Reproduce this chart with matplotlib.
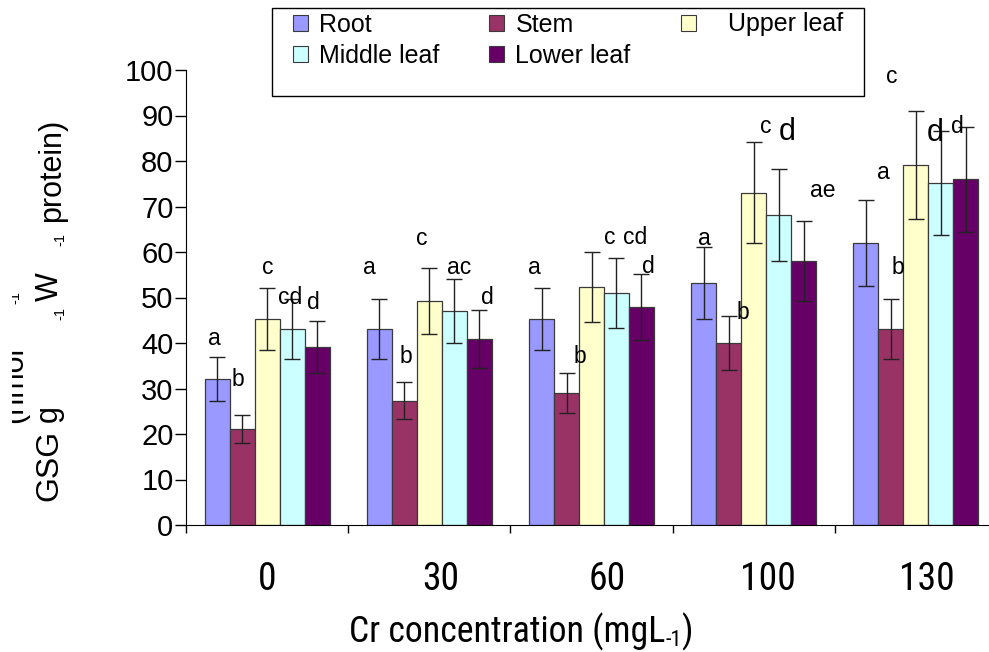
import numpy as np
from matplotlib import pyplot as plt
from matplotlib import font_manager
from matplotlib.font_manager import FontProperties
from matplotlib.patches import Patch, Rectangle
from matplotlib.transforms import Bbox

# Values
concentrations = ['0', '30', '60', '100', '130']
organs = ['Root', 'Stem', 'Upper leaf', 'Middle leaf', 'Lower leaf']

root = [32.1, 43.1, 45.3, 53.2, 62.0]
stem = [21.1, 27.3, 29.0, 40.0, 43.1]
upper_leaf = [45.3, 49.2, 52.3, 73.0, 79.1]
middle_leaf = [43.1, 47.0, 51.0, 68.1, 75.2]
lower_leaf = [39.1, 40.9, 47.9, 58.0, 76.0]

root_err = [4.8, 6.6, 6.8, 7.9, 9.4]
stem_err = [3.0, 4.1, 4.4, 6.0, 6.6]
upper_err = [6.8, 7.2, 7.7, 11.1, 11.9]
middle_err = [6.6, 7.0, 7.7, 10.1, 11.4]
lower_err = [5.7, 6.4, 7.2, 8.8, 11.5]

# Significance letters (text only, placement is below)
letters = ['a', 'b', 'c', 'cd', 'd',
           'a', 'b', 'c', 'ac', 'd',
           'a', 'b', 'c', 'cd', 'd',
           'a', 'b', 'c', 'd', 'ae',
           'a', 'b', 'c', 'd', 'd']

values = [root, stem, upper_leaf, middle_leaf, lower_leaf]
errors = [root_err, stem_err, upper_err, middle_err, lower_err]
colors = ['#9999FF', '#993366', '#FFFFCC', '#CCFFFF', '#660066']

# Letter placement in data coords (x, y, fontsize)
letter_pos = [(-0.327, 40.9, 16.5), (-0.179, 31.9, 16.5), (0.006, 56.7, 16.5), (0.142, 49.9, 16.5), (0.284, 48.8, 16.5),
              (0.630, 56.7, 16.5), (0.858, 37.1, 16.5), (0.951, 62.9, 16.5), (1.185, 56.7, 16.5), (1.358, 50.1, 16.5),
              (1.648, 56.7, 16.5), (1.926, 37.1, 16.5), (2.111, 63.1, 16.5), (2.272, 63.1, 16.5), (2.352, 56.9, 16.5),
              (2.698, 62.9, 16.5), (2.932, 46.8, 16.5), (3.074, 87.5, 16.5), (3.204, 86.4, 22), (3.426, 73.6, 16.5),
              (3.802, 77.4, 16.5), (3.889, 56.7, 16.5), (3.852, 98.5, 16.5), (4.117, 86.2, 22), (4.253, 87.5, 16.5)]

# x tick label nudges (the original labels sit a bit right of the group centres)
label_shift = [0.0, 0.07, 0.1, 0.09, 0.07]

plt.rcParams['font.family'] = ['Liberation Sans', 'DejaVu Sans']

# look for a narrow face for the x axis text (original uses a condensed font)
narrow_file = None
prefs = ['LiberationSansNarrow-Regular', 'RobotoCondensed-Regular', 'DejaVuSansCondensed.ttf',
         'OpenSansCondensed', 'OpenSans_Condensed']
files = [f.fname for f in font_manager.fontManager.ttflist]
for p in prefs:
    hits = [f for f in files if p in f]
    if hits:
        narrow_file = hits[0]
        break


def narrow_font(size):
    if narrow_file:
        return FontProperties(fname=narrow_file, size=size)
    return FontProperties(family='Liberation Sans', size=size)


W, H = 989, 652


def px(x, y):
    """Pixel position (from top-left) to figure fraction."""
    return x / W, 1 - y / H


fig = plt.figure(figsize=(W / 100, H / 100), dpi=100)
ax = fig.add_axes([186 / W, 1 - 525 / H, (997 - 186) / W, (525 - 70) / H])
renderer = fig.canvas.get_renderer()

x = np.arange(len(concentrations))
width = 0.154
for k in range(len(organs)):
    pos = x + (k - 2) * width
    ax.bar(pos, values[k], width, color=colors[k], edgecolor='#3a3a3a',
           linewidth=0.9, label=organs[k], zorder=2)
    ax.errorbar(pos, values[k], yerr=errors[k], fmt='none', ecolor='#222222',
                elinewidth=1, capsize=5.5, capthick=1, zorder=3)

for txt, (lx, ly, fs) in zip(letters, letter_pos):
    ax.text(lx, ly, txt, fontsize=fs, ha='center', va='center', zorder=4)

# Axes look
ax.set_xlim(-0.5, 4.5)
ax.set_ylim(0, 100)
ax.spines['top'].set_visible(False)
ax.spines['right'].set_visible(False)
ax.set_yticks(np.arange(0, 101, 10))
ax.tick_params(axis='y', direction='out', length=8, width=1, labelsize=21, pad=1)

# x label built from pieces so the "-1" stays a hyphen subscript
xl_size = 27
pieces = [('Cr concentration (mgL', 1.0, 0), ('-1', 0.62, -4), (')', 1.0, 0)]


def build_xlabel(size):
    cur = 0.0
    arts = []
    for txt, rel, dy in pieces:
        t = fig.text(0, 0, txt, fontproperties=narrow_font(size * rel),
                     ha='left', va='baseline', transform=None)
        ext = t.get_window_extent(renderer)
        arts.append((t, cur, dy))
        cur += ext.width
    return arts, cur


arts, total = build_xlabel(xl_size)
for t, _, _ in arts:
    t.remove()
xl_size = xl_size * 343 / total
arts, total = build_xlabel(xl_size)
x0 = 521 - total / 2
for t, off, dy in arts:
    t.set_position((x0 + off, H - 642 + dy))

ax.set_xticks(np.arange(-0.5, 5, 1))
ax.set_xticklabels([''] * 6)
ax.tick_params(axis='x', which='major', direction='out', length=6, width=1)
ax.set_xticks(x + np.array(label_shift), minor=True)
ax.set_xticklabels(concentrations, minor=True, fontproperties=narrow_font(xl_size * 1.05))
ax.tick_params(axis='x', which='minor', length=0, pad=26)

# y label pieces (the original is broken into fragments)
ylabel_parts = [('GSG', 465, 57, 23), ('g', 414, 57, 22), ('-1', 313, 64, 10.5),
                ('W', 287, 58, 22), ('-1', 240, 64, 10.5), ('protein)', 170, 60, 22)]
for txt, yy, bx, fs in ylabel_parts:
    fig.text(*px(bx, yy), txt, fontsize=fs, rotation=90, rotation_mode='anchor',
             ha='center', va='baseline')

clip = Bbox.from_extents(12, 0, W, H)
for txt, yy, bx, fs in [('(nmol', 385, 22, 22), ('-1', 298, 19, 10.5)]:
    t = fig.text(*px(bx, yy), txt, fontsize=fs, rotation=90, rotation_mode='anchor',
                 ha='center', va='baseline')
    t.set_clip_box(clip)
    t.set_clip_on(True)

# Legend box and entries
fig.add_artist(Rectangle(px(272, 96), (864 - 272) / W, (96 - 8) / H,
                         transform=fig.transFigure, fill=False, ec='black', lw=1))
order = [0, 3, 1, 4, 2]
handles = [Patch(facecolor=colors[i], edgecolor='#3a3a3a', linewidth=0.8) for i in order]
labels = [organs[i] if i != 2 else '   ' + organs[i] for i in order]
fig.legend(handles, labels, ncol=3, loc='upper left', bbox_to_anchor=px(280, 0),
           frameon=False, fontsize=18, handlelength=0.6, handleheight=0.6,
           handletextpad=0.45, columnspacing=2.0, labelspacing=0.3, borderpad=0)

fig.savefig('out.png', dpi=100)
